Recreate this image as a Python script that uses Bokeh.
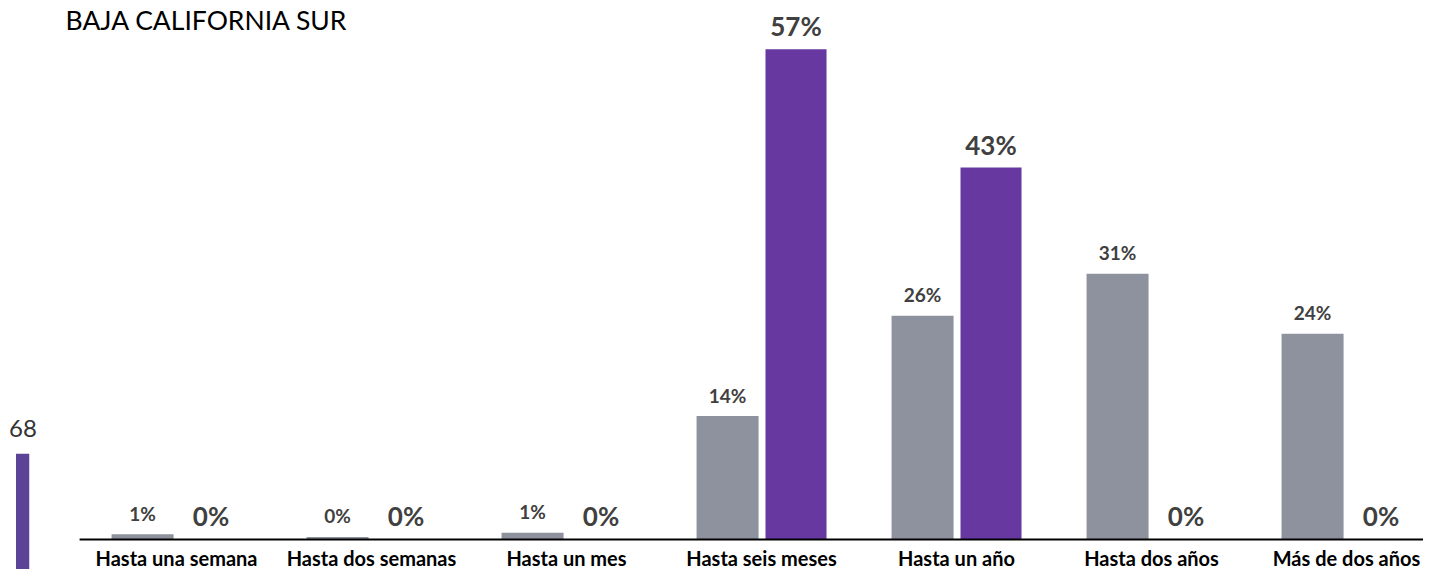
from bokeh.plotting import figure
from bokeh.models import ColumnDataSource, Range1d
from bokeh.core.properties import value
from bokeh.embed import file_html
from bokeh.resources import INLINE

# ---- data ----
title_text = "BAJA CALIFORNIA SUR"
categories = ["Hasta una semana", "Hasta dos semanas", "Hasta un mes",
              "Hasta seis meses", "Hasta un año", "Hasta dos años", "Más de dos años"]
gray_values = [0.6, 0.3, 0.8, 14.4, 26.1, 31.0, 24.0]
purple_values = [0.0, 0.0, 0.0, 57.2, 43.4, 0.0, 0.0]
total_n = 68

# ---- styling / layout ----
FONT = value("Lato")
GRAY = "#8E929E"
PURPLE = "#6738A0"
LEFT_PURPLE = "#5B4496"
TXT = "#404040"

idx = list(range(len(categories)))
gray_x = [i - 0.174 for i in idx]
purple_x = [i + 0.177 for i in idx]

gray_src = ColumnDataSource(dict(x=gray_x, top=gray_values,
                                 label=[f"{v:.0f}%" for v in gray_values]))
purple_src = ColumnDataSource(dict(x=purple_x, top=purple_values,
                                   label=[f"{v:.0f}%" for v in purple_values]))
cat_src = ColumnDataSource(dict(x=idx, y=[0] * len(idx), label=categories))

p = figure(width=1423, height=569, output_backend="svg", toolbar_location=None,
           x_range=Range1d(-0.9026, 6.3949), y_range=Range1d(-3.5006, 62.894),
           x_axis_location=None, y_axis_location=None,
           min_border=0, outline_line_color=None)
p.grid.visible = False
p.background_fill_color = "white"
p.border_fill_color = "white"

# bars
p.vbar(x="x", top="top", bottom=0, width=0.318, source=gray_src,
       fill_color=GRAY, line_color=None)
p.vbar(x="x", top="top", bottom=0, width=0.313, source=purple_src,
       fill_color=PURPLE, line_color=None)

# baseline
p.segment(x0=[-0.497], y0=[0], x1=[6.45], y1=[0], line_color="black", line_width=2)

# value labels
p.text(x="x", y="top", text="label", source=gray_src, text_align="center",
       text_baseline="alphabetic", y_offset=-21, text_font=FONT,
       text_font_size="19px", text_font_style="bold", text_color=TXT)
p.text(x="x", y="top", text="label", source=purple_src, text_align="center",
       text_baseline="alphabetic", y_offset=-23, text_font=FONT,
       text_font_size="26px", text_font_style="bold", text_color=TXT)

# category labels
p.text(x="x", y="y", text="label", source=cat_src, text_align="center",
       text_baseline="alphabetic", y_offset=19, text_font=FONT,
       text_font_size="20px", text_font_style="bold", text_color="black")

# left total marker
p.vbar(x=[-0.7892], top=[10.0], bottom=-6, width=0.068,
       fill_color=LEFT_PURPLE, line_color=None)
p.text(x=[-0.787], y=[11.9], text=[str(total_n)], text_align="center",
       text_baseline="alphabetic", y_offset=-9, text_font=FONT,
       text_font_size="24px", text_color="#333333")

# title (kept fully visible near the top edge)
p.text(x=[-0.569], y=[61.73], text=[title_text], text_align="left",
       text_baseline="alphabetic", y_offset=10, text_font=FONT,
       text_font_size="26.5px", text_color="black")

open("out.html", "w").write(file_html(p, INLINE))
